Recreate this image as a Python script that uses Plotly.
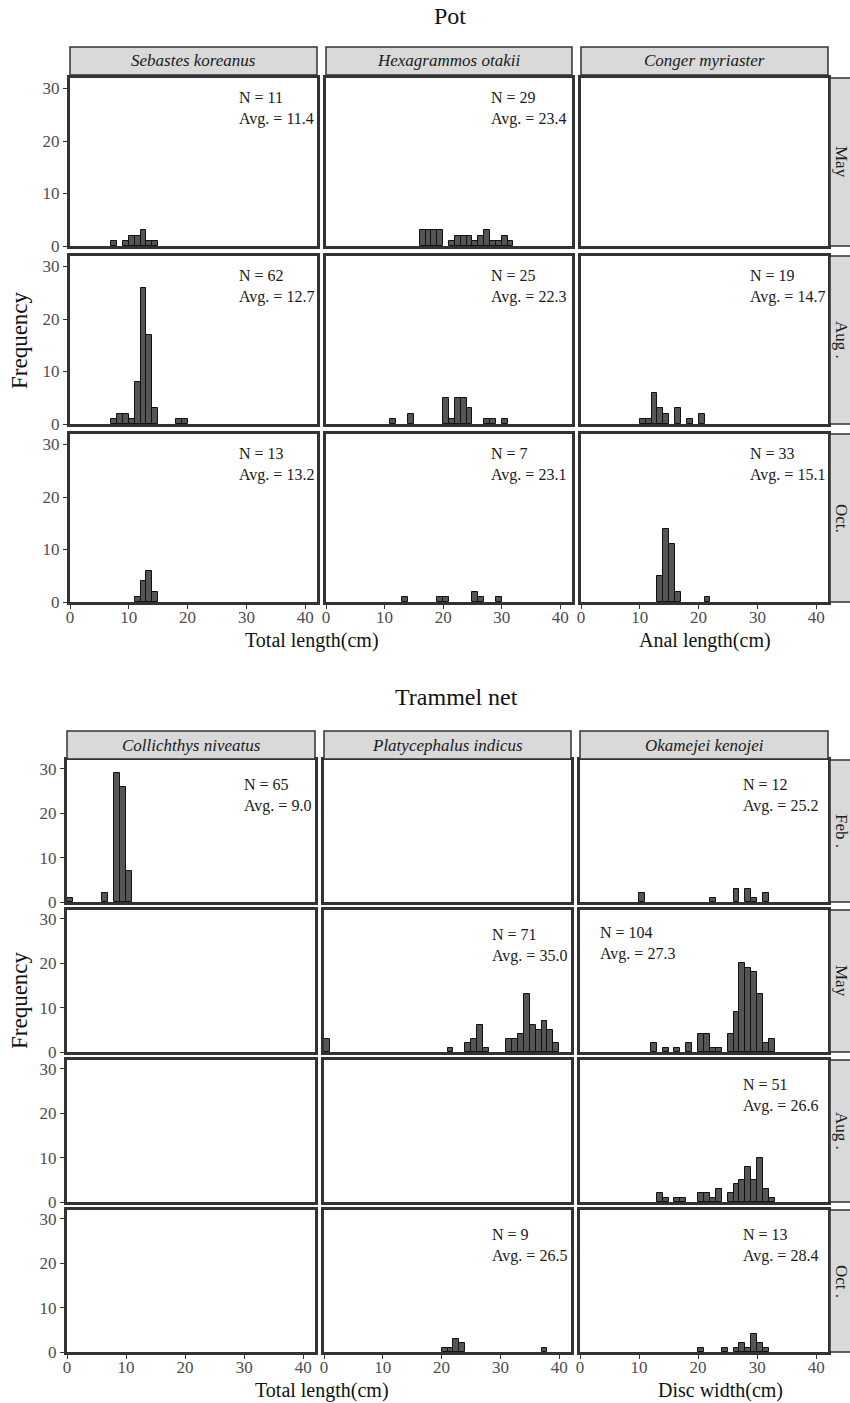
import plotly.graph_objects as go

# ---------------- data: bin left edges (bin width 1 cm) and counts ----------------
# Pot - Sebastes koreanus
pot_sk_may_x = [7, 9, 10, 11, 12, 13, 14]
pot_sk_may_n = [1, 1, 2, 2, 3, 1, 1]
pot_sk_aug_x = [7, 8, 9, 10, 11, 12, 13, 14, 18, 19]
pot_sk_aug_n = [1, 2, 2, 1, 8, 26, 17, 3, 1, 1]
pot_sk_oct_x = [11, 12, 13, 14]
pot_sk_oct_n = [1, 4, 6, 2]
# Pot - Hexagrammos otakii
pot_ho_may_x = [16, 17, 18, 19, 21, 22, 23, 24, 25, 26, 27, 28, 29, 30, 31]
pot_ho_may_n = [3, 3, 3, 3, 1, 2, 2, 2, 1, 2, 3, 1, 1, 2, 1]
pot_ho_aug_x = [11, 14, 20, 21, 22, 23, 24, 27, 28, 30]
pot_ho_aug_n = [1, 2, 5, 1, 5, 5, 3, 1, 1, 1]
pot_ho_oct_x = [13, 19, 20, 25, 26, 29]
pot_ho_oct_n = [1, 1, 1, 2, 1, 1]
# Pot - Conger myriaster
pot_cm_may_x = []
pot_cm_may_n = []
pot_cm_aug_x = [10, 11, 12, 13, 14, 16, 18, 20]
pot_cm_aug_n = [1, 1, 6, 3, 2, 3, 1, 2]
pot_cm_oct_x = [13, 14, 15, 16, 21]
pot_cm_oct_n = [5, 14, 11, 2, 1]
# Trammel net - Collichthys niveatus
tr_cn_feb_x = [0, 6, 8, 9, 10]
tr_cn_feb_n = [1, 2, 29, 26, 7]
# Trammel net - Platycephalus indicus
tr_pi_may_x = [0, 21, 24, 25, 26, 27, 31, 32, 33, 34, 35, 36, 37, 38, 39]
tr_pi_may_n = [3, 1, 2, 3, 6, 1, 3, 3, 4, 13, 6, 5, 7, 5, 2]
tr_pi_oct_x = [20, 21, 22, 23, 37]
tr_pi_oct_n = [1, 1, 3, 2, 1]
# Trammel net - Okamejei kenojei
tr_ok_feb_x = [10, 22, 26, 28, 29, 31]
tr_ok_feb_n = [2, 1, 3, 3, 1, 2]
tr_ok_may_x = [12, 14, 16, 18, 20, 21, 22, 23, 25, 26, 27, 28, 29, 30, 31, 32]
tr_ok_may_n = [2, 1, 1, 2, 4, 4, 1, 1, 4, 9, 20, 19, 18, 13, 2, 3]
tr_ok_aug_x = [13, 14, 16, 17, 20, 21, 22, 23, 25, 26, 27, 28, 29, 30, 31, 32]
tr_ok_aug_n = [2, 1, 1, 1, 2, 2, 1, 3, 2, 4, 5, 8, 5, 10, 3, 1]
tr_ok_oct_x = [20, 24, 26, 27, 28, 29, 30, 31]
tr_ok_oct_n = [1, 1, 1, 2, 1, 4, 2, 1]

pot_species = ["Sebastes koreanus", "Hexagrammos otakii", "Conger myriaster"]
pot_months = ["May", "Aug .", "Oct."]
tr_species = ["Collichthys niveatus", "Platycephalus indicus", "Okamejei kenojei"]
tr_months = ["Feb .", "May", "Aug .", "Oct ."]
x_ticks = [0, 10, 20, 30, 40]
y_ticks = [0, 10, 20, 30]

# (row, col, x, counts, N label, Avg label)
pot_panels = [
    (0, 0, pot_sk_may_x, pot_sk_may_n, "N = 11", "Avg. = 11.4"),
    (0, 1, pot_ho_may_x, pot_ho_may_n, "N = 29", "Avg. = 23.4"),
    (0, 2, pot_cm_may_x, pot_cm_may_n, None, None),
    (1, 0, pot_sk_aug_x, pot_sk_aug_n, "N = 62", "Avg. = 12.7"),
    (1, 1, pot_ho_aug_x, pot_ho_aug_n, "N = 25", "Avg. = 22.3"),
    (1, 2, pot_cm_aug_x, pot_cm_aug_n, "N = 19", "Avg. = 14.7"),
    (2, 0, pot_sk_oct_x, pot_sk_oct_n, "N = 13", "Avg. = 13.2"),
    (2, 1, pot_ho_oct_x, pot_ho_oct_n, "N = 7", "Avg. = 23.1"),
    (2, 2, pot_cm_oct_x, pot_cm_oct_n, "N = 33", "Avg. = 15.1"),
]
tr_panels = [
    (0, 0, tr_cn_feb_x, tr_cn_feb_n, "N = 65", "Avg. = 9.0"),
    (0, 1, [], [], None, None),
    (0, 2, tr_ok_feb_x, tr_ok_feb_n, "N = 12", "Avg. = 25.2"),
    (1, 0, [], [], None, None),
    (1, 1, tr_pi_may_x, tr_pi_may_n, "N = 71", "Avg. = 35.0"),
    (1, 2, tr_ok_may_x, tr_ok_may_n, "N = 104", "Avg. = 27.3"),
    (2, 0, [], [], None, None),
    (2, 1, [], [], None, None),
    (2, 2, tr_ok_aug_x, tr_ok_aug_n, "N = 51", "Avg. = 26.6"),
    (3, 0, [], [], None, None),
    (3, 1, tr_pi_oct_x, tr_pi_oct_n, "N = 9", "Avg. = 26.5"),
    (3, 2, tr_ok_oct_x, tr_ok_oct_n, "N = 13", "Avg. = 28.4"),
]

# ---------------- layout geometry (pixels) ----------------
W, H = 850, 1403
SERIF = "Liberation Serif"
DARK = "#333333"
pot_cols = [(70, 317), (326, 572), (581, 828)]
pot_rows = [(78, 246), (256, 424), (434, 602)]
tr_cols = [(67, 315), (324, 571), (580, 828)]
tr_rows = [(760, 902), (910, 1052), (1060, 1202), (1210, 1352)]
XR = [0, 42]
YR = [0, 32]


def fx(px):
    return px / W


def fy(py):
    return 1 - py / H


fig = go.Figure()
shapes = []
annotations = []
layout_axes = {}
idx = 0


def add_block(panels, cols, rows, species, months, strip_top, ann_default):
    global idx
    nrows = len(rows)
    for (r, c, xs, ns, ntxt, atxt) in panels:
        idx += 1
        xa = "x" if idx == 1 else f"x{idx}"
        ya = "y" if idx == 1 else f"y{idx}"
        centers = [v + 0.5 for v in xs]
        fig.add_trace(go.Bar(
            x=centers, y=ns, width=[1] * len(xs), xaxis=xa, yaxis=ya,
            marker=dict(color="#555555", line=dict(color="#111111", width=1)),
            showlegend=False, hoverinfo="skip"))
        c0, c1 = cols[c]
        r0, r1 = rows[r]
        bottom = (r == nrows - 1)
        left = (c == 0)
        layout_axes["xaxis" if idx == 1 else f"xaxis{idx}"] = dict(
            domain=[fx(c0), fx(c1)], range=XR, anchor=ya, automargin=False,
            showline=True, mirror=True, linewidth=3, linecolor=DARK,
            showgrid=False, zeroline=False, tickvals=x_ticks,
            ticks="outside" if bottom else "", ticklen=4, tickwidth=1, tickcolor=DARK,
            showticklabels=bottom, ticklabelstandoff=-6,
            tickfont=dict(family=SERIF, size=17, color="#4D4D4D"))
        layout_axes["yaxis" if idx == 1 else f"yaxis{idx}"] = dict(
            domain=[fy(r1), fy(r0)], range=YR, anchor=xa, automargin=False,
            showline=True, mirror=True, linewidth=3, linecolor=DARK,
            showgrid=False, zeroline=False, tickvals=y_ticks,
            ticks="outside" if left else "", ticklen=4, tickwidth=1, tickcolor=DARK,
            showticklabels=left,
            tickfont=dict(family=SERIF, size=17, color="#4D4D4D"))
        if ntxt:
            if ntxt == "N = 104":
                ax, ay = 3.0, 29.2
            else:
                ax, ay = ann_default[c]
            annotations.append(dict(
                x=ax, y=ay, xref=xa, yref=ya, xanchor="left", yanchor="top",
                align="left", showarrow=False,
                text=f"{ntxt}<br>{atxt}",
                font=dict(family=SERIF, size=16, color="#1a1a1a")))
    # top strips
    for c, name in enumerate(species):
        c0, c1 = cols[c]
        shapes.append(dict(type="rect", xref="paper", yref="paper",
                           x0=fx(c0), x1=fx(c1), y0=fy(strip_top + 28), y1=fy(strip_top),
                           fillcolor="#D9D9D9", line=dict(color=DARK, width=1.5)))
        annotations.append(dict(x=fx((c0 + c1) / 2), y=fy(strip_top + 14), xref="paper", yref="paper",
                                text=f"<i>{name}</i>", showarrow=False,
                                xanchor="center", yanchor="middle",
                                font=dict(family=SERIF, size=17, color="#1a1a1a")))
    # right strips
    for r, m in enumerate(months):
        r0, r1 = rows[r]
        shapes.append(dict(type="rect", xref="paper", yref="paper",
                           x0=fx(830), x1=fx(860), y0=fy(r1), y1=fy(r0),
                           fillcolor="#D9D9D9", line=dict(color=DARK, width=1.5)))
        annotations.append(dict(x=fx(842), y=fy((r0 + r1) / 2), xref="paper", yref="paper",
                                text=m, textangle=90, showarrow=False,
                                xanchor="center", yanchor="middle",
                                font=dict(family=SERIF, size=17, color="#1a1a1a")))


add_block(pot_panels, pot_cols, pot_rows, pot_species, pot_months, 47,
          [(28.4, 30.2), (27.8, 30.2), (28.4, 30.2)])
add_block(tr_panels, tr_cols, tr_rows, tr_species, tr_months, 731,
          [(29.6, 28.8), (28.2, 28.8), (27.3, 28.8)])

# titles and axis titles
texts = [
    ("Pot", 450, 16, 24, 0),
    ("Trammel net", 456, 697, 24, 0),
    ("Frequency", 19, 340, 23, -90),
    ("Frequency", 19, 1000, 23, -90),
    ("Total length(cm)", 312, 640, 20, 0),
    ("Anal length(cm)", 705, 640, 20, 0),
    ("Total length(cm)", 322, 1390, 20, 0),
    ("Disc width(cm)", 720, 1390, 20, 0),
]
for t, x, y, s, ang in texts:
    annotations.append(dict(x=fx(x), y=fy(y), xref="paper", yref="paper", text=t,
                            showarrow=False, textangle=ang,
                            xanchor="center", yanchor="middle",
                            font=dict(family=SERIF, size=s, color="#111111")))

fig.update_layout(
    template="none",
    width=W, height=H, margin=dict(l=0, r=0, t=0, b=0, autoexpand=False),
    paper_bgcolor="white", plot_bgcolor="white",
    shapes=shapes, annotations=annotations, bargap=0, **layout_axes)

fig.write_html("out.html", config={"displayModeBar": False},
               post_script="document.body.style.margin='0';document.body.style.overflow='hidden';")
